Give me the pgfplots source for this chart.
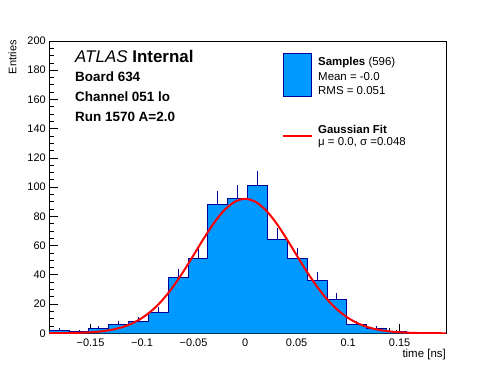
\documentclass[border=0pt]{standalone}
\usepackage{pgfplots}
\pgfplotsset{compat=1.18}
\usepackage{fontspec}
\setmainfont{Liberation Sans}
\definecolor{histfill}{RGB}{0,153,255}
\definecolor{histline}{RGB}{0,0,153}
\definecolor{fitred}{RGB}{255,0,0}
\begin{document}
\begin{tikzpicture}[x=1bp,y=1bp]
\useasboundingbox (0,0) rectangle (496,372);
\begin{axis}[
  at={(49.3bp,38.7bp)}, anchor=south west,
  scale only axis, width=396.7bp, height=292.3bp,
  xmin=-0.19, xmax=0.195, ymin=0, ymax=200,
  tick pos=left, tick align=inside,
  xtick={-0.15,-0.1,-0.05,0,0.05,0.1,0.15},
  xticklabels={−0.15,−0.1,−0.05,0,0.05,0.1,0.15},
  ytick={0,20,...,200},
  yticklabels={0,20,40,60,80,100,120,140,160,180,200},
  minor x tick num=4, minor y tick num=3,
  major tick length=9bp, minor tick length=5bp,
  ticklabel style={font=\fontsize{11}{13}\selectfont},
  xticklabel style={yshift=-2.5bp},
  axis line style={line width=0.8bp},
  every tick/.style={black, line width=0.8bp},
  clip=true,
]
\addplot[const plot, fill=histfill, draw=none] coordinates {
(-0.19,2) (-0.17075,1) (-0.1515,3) (-0.13225,6) (-0.113,8) (-0.09375,14)
(-0.0745,38) (-0.05525,51) (-0.036,88) (-0.01675,92) (0.0025,101) (0.02175,64)
(0.041,51) (0.06025,36) (0.0795,23) (0.09875,6) (0.118,3) (0.13725,1)
(0.1565,0) (0.17575,0) (0.195,0)} \closedcycle;
\addplot[const plot, draw=histline, line width=1bp] coordinates {
(-0.19,2) (-0.17075,1) (-0.1515,3) (-0.13225,6) (-0.113,8) (-0.09375,14)
(-0.0745,38) (-0.05525,51) (-0.036,88) (-0.01675,92) (0.0025,101) (0.02175,64)
(0.041,51) (0.06025,36) (0.0795,23) (0.09875,6) (0.118,3) (0.13725,1)
(0.1565,0) (0.17575,0) (0.195,0)};
\addplot[color=histline, draw=none, mark=none,
  error bars/.cd, y dir=plus, y explicit, error mark=none,
  error bar style={color=histline, line width=1bp}] coordinates {
(-0.180375,2) +- (0,1.41)
(-0.161125,1) +- (0,1)
(-0.141875,3) +- (0,1.73)
(-0.122625,6) +- (0,2.45)
(-0.103375,8) +- (0,2.83)
(-0.084125,14) +- (0,3.74)
(-0.064875,38) +- (0,6.16)
(-0.045625,51) +- (0,7.14)
(-0.026375,88) +- (0,9.38)
(-0.007125,92) +- (0,9.59)
(0.012125,101) +- (0,10.05)
(0.031375,64) +- (0,8.0)
(0.050625,51) +- (0,7.14)
(0.069875,36) +- (0,6.0)
(0.089125,23) +- (0,4.80)
(0.108375,6) +- (0,2.45)
(0.127625,3) +- (0,1.73)
(0.146875,1) +- (0,1)};
\addplot[smooth, draw=fitred, line width=2bp] coordinates {
(-0.19,0.04) (-0.18,0.08) (-0.17,0.17) (-0.16,0.36) (-0.15,0.70) (-0.14,1.31)
(-0.13,2.35) (-0.12,4.04) (-0.11,6.66) (-0.10,10.51) (-0.09,15.86) (-0.08,22.94)
(-0.07,31.77) (-0.06,42.12) (-0.05,53.48) (-0.04,65.01) (-0.03,75.68) (-0.02,84.36)
(-0.01,90.02) (0,92) (0.01,90.02) (0.02,84.36) (0.03,75.68) (0.04,65.01)
(0.05,53.48) (0.06,42.12) (0.07,31.77) (0.08,22.94) (0.09,15.86) (0.10,10.51)
(0.11,6.66) (0.12,4.04) (0.13,2.35) (0.14,1.31) (0.15,0.70) (0.16,0.36)
(0.17,0.17) (0.18,0.08) (0.19,0.04) (0.195,0.02)};
\end{axis}
% axis titles
\node[rotate=90, anchor=east, inner sep=0pt, font=\fontsize{11}{13}\selectfont] at (12.5,332) {Entries};
\node[anchor=east, inner sep=0pt, font=\fontsize{11.5}{13}\selectfont] at (446,17) {time [ns]};
% top-left label
\node[anchor=base west, inner sep=0pt, font=\fontsize{17}{19}\selectfont] at (75,309.2) {\textit{ATLAS} \textbf{Internal}};
\node[anchor=base west, inner sep=0pt, font=\fontsize{13.5}{15}\selectfont\bfseries] at (75,290.5) {Board 634};
\node[anchor=base west, inner sep=0pt, font=\fontsize{13.5}{15}\selectfont\bfseries] at (75,270.5) {Channel 051 lo};
\node[anchor=base west, inner sep=0pt, font=\fontsize{13.5}{15}\selectfont\bfseries] at (75,250.5) {Run 1570 A=2.0};
% legend
\draw[fill=histfill, draw=histline, line width=1bp] (283.5,275.5) rectangle (311.5,318.5);
\node[anchor=base west, inner sep=0pt, font=\fontsize{11.5}{13}\selectfont] at (318,306.2) {\textbf{Samples} (596)};
\node[anchor=base west, inner sep=0pt, font=\fontsize{11.5}{13}\selectfont] at (318,291.9) {Mean = -0.0};
\node[anchor=base west, inner sep=0pt, font=\fontsize{11.5}{13}\selectfont] at (318,277.9) {RMS = 0.051};
\draw[draw=fitred, line width=2bp] (282.7,236) -- (311.7,236);
\node[anchor=base west, inner sep=0pt, font=\fontsize{11.5}{13}\selectfont] at (318,238.6) {\textbf{Gaussian Fit}};
\node[anchor=base west, inner sep=0pt, font=\fontsize{11.5}{13}\selectfont] at (318,226.2) {μ = 0.0, σ =0.048};
\end{tikzpicture}
\end{document}
